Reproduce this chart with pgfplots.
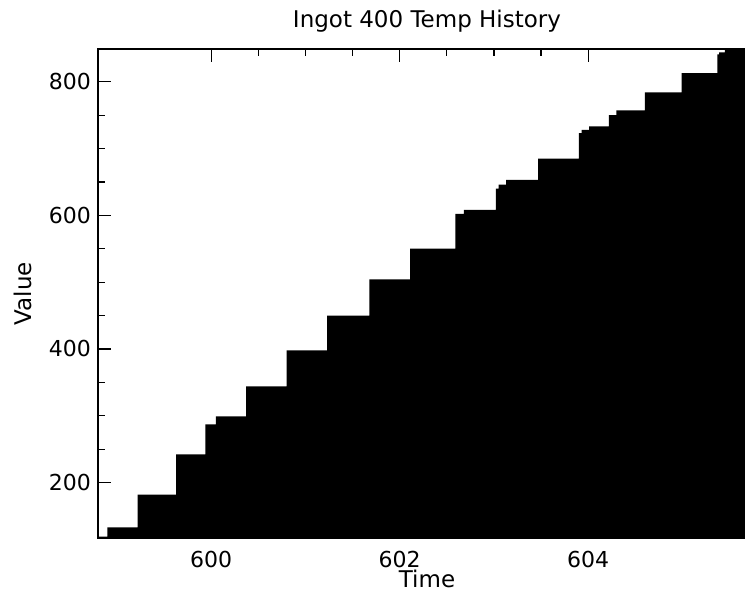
\documentclass[border=0pt]{standalone}
\usepackage{fontspec}
\setmainfont{DejaVu Sans}
\usepackage{pgfplots}
\pgfplotsset{compat=1.18}

\begin{document}
\begin{tikzpicture}
\useasboundingbox (-49pt,-30pt) rectangle (323.5pt,269pt);
\clip (-49pt,-30pt) rectangle (323.5pt,269pt);
\begin{axis}[
  scale only axis, width=329pt, height=244.5pt,
  at={(0pt,0pt)}, anchor=south west,
  xmin=598.80, xmax=605.78, ymin=117, ymax=849,
  xtick={600,602,604}, minor x tick num=3,
  ytick={200,400,600,800}, minor y tick num=3,
  tick align=inside,
  major tick length=6.5pt, minor tick length=3.5pt,
  every tick/.style={black, line width=0.6pt},
  axis line style={line width=0.6pt},
  font=\fontsize{11.5}{13}\selectfont,
  tick label style={font=\fontsize{11}{13}\selectfont},
  /pgf/number format/assume math mode=true,
  /pgf/number format/1000 sep={},
  xticklabel style={yshift=-2.9pt},
  title={Ingot 400 Temp History},
  every axis title/.style={at={(axis description cs:0.5,1)}, anchor=base, yshift=10.5pt, inner sep=0pt},
  xlabel={Time},
  every axis x label/.style={at={(axis description cs:0.5,0)}, anchor=north, yshift=-16pt, inner sep=0pt},
  ylabel={Value},
  every axis y label/.style={at={(axis description cs:-0.1277,0.5)}, rotate=90, anchor=north, inner sep=0pt},
]
\addplot[const plot, fill=black, draw=none] coordinates {
  (598.80,119) (598.90,133) (599.22,182) (599.63,242) (599.94,287)
  (600.05,299) (600.37,344) (600.80,398) (601.23,450) (601.68,504)
  (602.11,550) (602.59,602) (602.68,608) (603.02,640) (603.05,646)
  (603.13,653) (603.47,685) (603.90,723) (603.93,728) (604.01,733)
  (604.22,750) (604.30,757) (604.60,784) (604.99,813) (605.37,841)
  (605.39,844) (605.45,860) (605.78,860)
} \closedcycle;
\end{axis}
\end{tikzpicture}
\end{document}
